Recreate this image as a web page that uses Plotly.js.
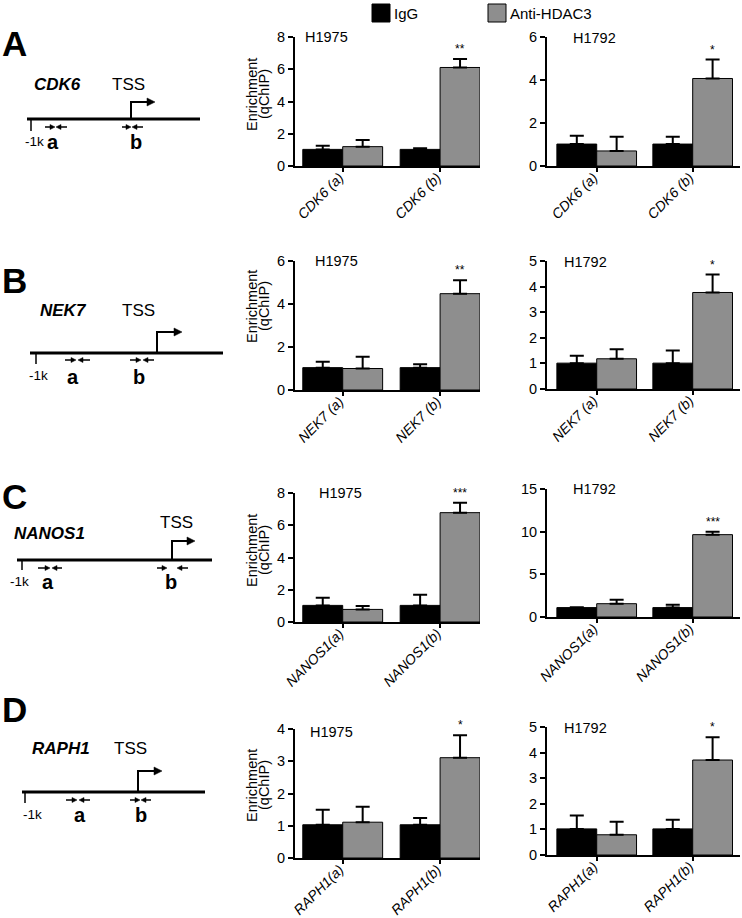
<!DOCTYPE html>
<html><head><meta charset="utf-8">
<script src="https://cdn.plot.ly/plotly-3.0.1.min.js"></script>
<style>html,body{margin:0;padding:0;background:#fff}#chart{width:742px;height:918px}</style>
</head><body><div id="chart"></div>
<script>
// ---------------- DATA ----------------
const seriesNames = ['IgG', 'Anti-HDAC3'];
const cellLines = ['H1975', 'H1792'];
const geneNames = ['CDK6', 'NEK7', 'NANOS1', 'RAPH1'];
const panelLetters = ['A', 'B', 'C', 'D'];

const catsCDK6 = ['CDK6 (a)', 'CDK6 (b)'];
const catsNEK7 = ['NEK7 (a)', 'NEK7 (b)'];
const catsNANOS1 = ['NANOS1(a)', 'NANOS1(b)'];
const catsRAPH1 = ['RAPH1(a)', 'RAPH1(b)'];

const cdk6_H1975_igg = [1.03, 1.03];
const cdk6_H1975_iggErr = [0.23, 0.07];
const cdk6_H1975_anti = [1.20, 6.11];
const cdk6_H1975_antiErr = [0.42, 0.52];
const cdk6_H1975_sig = ['', '**'];

const cdk6_H1792_igg = [1.02, 1.02];
const cdk6_H1792_iggErr = [0.39, 0.34];
const cdk6_H1792_anti = [0.70, 4.07];
const cdk6_H1792_antiErr = [0.66, 0.88];
const cdk6_H1792_sig = ['', '*'];

const nek7_H1975_igg = [1.04, 1.04];
const nek7_H1975_iggErr = [0.27, 0.16];
const nek7_H1975_anti = [1.00, 4.48];
const nek7_H1975_antiErr = [0.55, 0.62];
const nek7_H1975_sig = ['', '**'];

const nek7_H1792_igg = [1.01, 1.01];
const nek7_H1792_iggErr = [0.29, 0.49];
const nek7_H1792_anti = [1.18, 3.77];
const nek7_H1792_antiErr = [0.37, 0.70];
const nek7_H1792_sig = ['', '*'];

const nanos1_H1975_igg = [1.03, 1.03];
const nanos1_H1975_iggErr = [0.47, 0.66];
const nanos1_H1975_anti = [0.78, 6.78];
const nanos1_H1975_antiErr = [0.21, 0.62];
const nanos1_H1975_sig = ['', '***'];

const nanos1_H1792_igg = [1.10, 1.10];
const nanos1_H1792_iggErr = [0.03, 0.35];
const nanos1_H1792_anti = [1.56, 9.65];
const nanos1_H1792_antiErr = [0.47, 0.35];
const nanos1_H1792_sig = ['', '***'];

const raph1_H1975_igg = [1.03, 1.03];
const raph1_H1975_iggErr = [0.47, 0.21];
const raph1_H1975_anti = [1.11, 3.11];
const raph1_H1975_antiErr = [0.48, 0.70];
const raph1_H1975_sig = ['', '*'];

const raph1_H1792_igg = [1.02, 1.02];
const raph1_H1792_iggErr = [0.52, 0.36];
const raph1_H1792_anti = [0.79, 3.71];
const raph1_H1792_antiErr = [0.51, 0.89];
const raph1_H1792_sig = ['', '*'];

// ---------------- LAYOUT HELPERS ----------------
const W = 742, H = 918;
const X = v => v / W;
const Y = v => 1 - v / H;
const FONT = '"Liberation Sans", Arial, Helvetica, sans-serif';
const GRAY = '#8e8e8e';

const colLeft = {x0: 295, x1: 480, xr: [-0.49, 1.41], bw: 0.41};
const colRight = {x0: 547, x1: 740, xr: [-0.518, 1.493], bw: 0.415};

const panels = [
  {col: colLeft, cats: catsCDK6, igg: cdk6_H1975_igg, iggErr: cdk6_H1975_iggErr, anti: cdk6_H1975_anti, antiErr: cdk6_H1975_antiErr, sig: cdk6_H1975_sig, cell: cellLines[0], yTop: 37, yBot: 166, ymax: 8, dtick: 2, lx: 303, ly: 37, yt: 94},
  {col: colRight, cats: catsCDK6, igg: cdk6_H1792_igg, iggErr: cdk6_H1792_iggErr, anti: cdk6_H1792_anti, antiErr: cdk6_H1792_antiErr, sig: cdk6_H1792_sig, cell: cellLines[1], yTop: 37, yBot: 166, ymax: 6, dtick: 2, lx: 571, ly: 38},
  {col: colLeft, cats: catsNEK7, igg: nek7_H1975_igg, iggErr: nek7_H1975_iggErr, anti: nek7_H1975_anti, antiErr: nek7_H1975_antiErr, sig: nek7_H1975_sig, cell: cellLines[0], yTop: 261, yBot: 390, ymax: 6, dtick: 2, lx: 313, ly: 261, yt: 306},
  {col: colRight, cats: catsNEK7, igg: nek7_H1792_igg, iggErr: nek7_H1792_iggErr, anti: nek7_H1792_anti, antiErr: nek7_H1792_antiErr, sig: nek7_H1792_sig, cell: cellLines[1], yTop: 261, yBot: 389, ymax: 5, dtick: 1, lx: 562, ly: 262},
  {col: colLeft, cats: catsNANOS1, igg: nanos1_H1975_igg, iggErr: nanos1_H1975_iggErr, anti: nanos1_H1975_anti, antiErr: nanos1_H1975_antiErr, sig: nanos1_H1975_sig, cell: cellLines[0], yTop: 493, yBot: 622, ymax: 8, dtick: 2, lx: 317, ly: 493, yt: 550},
  {col: colRight, cats: catsNANOS1, igg: nanos1_H1792_igg, iggErr: nanos1_H1792_iggErr, anti: nanos1_H1792_anti, antiErr: nanos1_H1792_antiErr, sig: nanos1_H1792_sig, cell: cellLines[1], yTop: 489, yBot: 617, ymax: 15, dtick: 5, lx: 571, ly: 489},
  {col: colLeft, cats: catsRAPH1, igg: raph1_H1975_igg, iggErr: raph1_H1975_iggErr, anti: raph1_H1975_anti, antiErr: raph1_H1975_antiErr, sig: raph1_H1975_sig, cell: cellLines[0], yTop: 729, yBot: 858, ymax: 4, dtick: 1, lx: 308, ly: 732, yt: 785},
  {col: colRight, cats: catsRAPH1, igg: raph1_H1792_igg, iggErr: raph1_H1792_iggErr, anti: raph1_H1792_anti, antiErr: raph1_H1792_antiErr, sig: raph1_H1792_sig, cell: cellLines[1], yTop: 727, yBot: 855, ymax: 5, dtick: 1, lx: 562, ly: 728}
];

const traces = [];
const layout = {
  width: W, height: H, margin: {l: 0, r: 0, t: 0, b: 0},
  paper_bgcolor: '#fff', plot_bgcolor: 'rgba(0,0,0,0)',
  showlegend: false, barmode: 'overlay',
  font: {family: FONT, color: '#000', size: 14},
  annotations: [], shapes: []
};

panels.forEach((p, i) => {
  const n = i + 1;
  const xa = n === 1 ? 'x' : 'x' + n;
  const ya = n === 1 ? 'y' : 'y' + n;
  const bw = p.col.bw;
  const errBase = {type: 'data', symmetric: false, color: '#000', thickness: 2, width: 7};
  traces.push({
    type: 'bar', name: seriesNames[0], x: p.cats, y: p.igg, xaxis: xa, yaxis: ya,
    width: bw, offset: -bw,
    marker: {color: '#000', line: {color: '#000', width: 1}},
    error_y: Object.assign({array: p.iggErr, arrayminus: p.igg.map(() => 0)}, errBase),
    hoverinfo: 'y'
  });
  traces.push({
    type: 'bar', name: seriesNames[1], x: p.cats, y: p.anti, xaxis: xa, yaxis: ya,
    width: bw, offset: 0,
    marker: {color: GRAY, line: {color: '#000', width: 1}},
    error_y: Object.assign({array: p.antiErr, arrayminus: p.anti.map(() => 0)}, errBase),
    hoverinfo: 'y'
  });
  layout['xaxis' + (n === 1 ? '' : n)] = {
    domain: [X(p.col.x0), X(p.col.x1)], range: p.col.xr, anchor: ya, type: 'category',
    showline: true, linewidth: 2, linecolor: '#000', ticks: 'outside', ticklen: 4, tickwidth: 2, tickcolor: '#000',
    tickangle: -45, ticklabelstandoff: -8, ticklabelshift: -3,
    tickfont: {family: FONT, size: 14, style: 'italic', color: '#000'},
    showgrid: false, zeroline: false, fixedrange: true
  };
  layout['yaxis' + (n === 1 ? '' : n)] = {
    domain: [Y(p.yBot), Y(p.yTop)], range: [0, p.ymax], dtick: p.dtick, tick0: 0, anchor: xa,
    showline: true, linewidth: 2, linecolor: '#000', ticks: 'outside', ticklen: 5, tickwidth: 2, tickcolor: '#000',
    tickfont: {family: FONT, size: 14.5, color: '#000'},
    showgrid: false, zeroline: false, fixedrange: true
  };
  layout.annotations.push({
    xref: 'paper', yref: 'paper', x: X(p.lx), y: Y(p.ly), xanchor: 'left', yanchor: 'middle',
    text: p.cell, showarrow: false, font: {family: FONT, size: 14.5, color: '#000'}
  });
  p.sig.forEach((s, j) => {
    if (!s) return;
    layout.annotations.push({
      xref: xa, yref: ya, x: j + bw / 2, y: p.anti[j] + p.antiErr[j], xanchor: 'center', yanchor: 'bottom',
      yshift: 1, text: s, showarrow: false, font: {family: FONT, size: 12, color: '#000'}
    });
  });
  if (p.yt !== undefined) {
    layout.annotations.push({
      xref: 'paper', yref: 'paper', x: X(252), y: Y(p.yt), xanchor: 'center', yanchor: 'middle',
      textangle: -90, text: 'Enrichment', showarrow: false, font: {family: FONT, size: 14.5, color: '#000'}
    });
    layout.annotations.push({
      xref: 'paper', yref: 'paper', x: X(264), y: Y(p.yt), xanchor: 'center', yanchor: 'middle',
      textangle: -90, text: '(qChIP)', showarrow: false, font: {family: FONT, size: 14.5, color: '#000'}
    });
  }
});

// ---------------- LEGEND (drawn) ----------------
layout.shapes.push({type: 'rect', xref: 'paper', yref: 'paper', x0: X(372), x1: X(390), y0: Y(22), y1: Y(4), fillcolor: '#000', line: {color: '#000', width: 1}});
layout.shapes.push({type: 'rect', xref: 'paper', yref: 'paper', x0: X(488), x1: X(506), y0: Y(22), y1: Y(4), fillcolor: GRAY, line: {color: '#000', width: 1}});
layout.annotations.push({xref: 'paper', yref: 'paper', x: X(392), y: Y(13), xanchor: 'left', yanchor: 'middle', text: seriesNames[0], showarrow: false, font: {family: FONT, size: 15}});
layout.annotations.push({xref: 'paper', yref: 'paper', x: X(508), y: Y(13), xanchor: 'left', yanchor: 'middle', text: seriesNames[1], showarrow: false, font: {family: FONT, size: 15}});

// ---------------- GENE DIAGRAMS ----------------
const diagrams = [
  {letterY: 43, geneX: 32, geneY: 85, tssX: 110, tssY: 85, line: [27, 200, 119], tick: [31, 131], kX: 34, labY: 141, aX: 53, bX: 136,
   pY: 127, prim: [[45, 55], [56, 67], [122, 131], [132, 143]], tss: [131, 102, 155]},
  {letterY: 280, geneX: 38, geneY: 310, tssX: 120, tssY: 310, line: [30, 223, 353], tick: [36, 364], kX: 38, labY: 376, aX: 72.5, bX: 139,
   pY: 360, prim: [[65, 76], [78, 90], [130, 141], [143, 154]], tss: [157, 332, 182]},
  {letterY: 496, geneX: 12, geneY: 533, tssX: 158, tssY: 522, line: [17, 212, 560], tick: [22, 570], kX: 19, labY: 581, aX: 48, bX: 171,
   pY: 568, prim: [[38, 50], [52, 62], [157, 167], [177, 188]], tss: [172, 541, 195]},
  {letterY: 709, geneX: 30, geneY: 748, tssX: 112, tssY: 748, line: [22, 205, 792], tick: [25, 803], kX: 32, labY: 814, aX: 80, bX: 141,
   pY: 800, prim: [[66, 77], [79, 90], [130, 140], [141, 151]], tss: [138, 771, 162]}
];

const P = (x, y) => X(x) + ',' + Y(y);
function arrowR(x0, x1, y, sh, hl, hw) {
  sh.push({type: 'line', xref: 'paper', yref: 'paper', x0: X(x0), x1: X(x1 - hl + 1), y0: Y(y), y1: Y(y), line: {color: '#000', width: 1.5}});
  sh.push({type: 'path', xref: 'paper', yref: 'paper', path: 'M' + P(x1 - hl, y - hw) + 'L' + P(x1, y) + 'L' + P(x1 - hl, y + hw) + 'Z', fillcolor: '#000', line: {color: '#000', width: 0.5}});
}
function arrowL(x0, x1, y, sh, hl, hw) {
  sh.push({type: 'line', xref: 'paper', yref: 'paper', x0: X(x0 + hl - 1), x1: X(x1), y0: Y(y), y1: Y(y), line: {color: '#000', width: 1.5}});
  sh.push({type: 'path', xref: 'paper', yref: 'paper', path: 'M' + P(x0 + hl, y - hw) + 'L' + P(x0, y) + 'L' + P(x0 + hl, y + hw) + 'Z', fillcolor: '#000', line: {color: '#000', width: 0.5}});
}

diagrams.forEach((d, i) => {
  const sh = layout.shapes, an = layout.annotations;
  an.push({xref: 'paper', yref: 'paper', x: X(0), y: Y(d.letterY), xanchor: 'left', yanchor: 'middle', text: '<b>' + panelLetters[i] + '</b>', showarrow: false, font: {family: FONT, size: 35}});
  an.push({xref: 'paper', yref: 'paper', x: X(d.geneX), y: Y(d.geneY), xanchor: 'left', yanchor: 'middle', text: '<b><i>' + geneNames[i] + '</i></b>', showarrow: false, font: {family: FONT, size: 17}});
  an.push({xref: 'paper', yref: 'paper', x: X(d.tssX), y: Y(d.tssY), xanchor: 'left', yanchor: 'middle', text: 'TSS', showarrow: false, font: {family: FONT, size: 17}});
  sh.push({type: 'line', xref: 'paper', yref: 'paper', x0: X(d.line[0]), x1: X(d.line[1]), y0: Y(d.line[2]), y1: Y(d.line[2]), line: {color: '#000', width: 3}});
  sh.push({type: 'line', xref: 'paper', yref: 'paper', x0: X(d.tick[0]), x1: X(d.tick[0]), y0: Y(d.line[2]), y1: Y(d.tick[1]), line: {color: '#000', width: 1.5}});
  an.push({xref: 'paper', yref: 'paper', x: X(d.kX), y: Y(d.labY), xanchor: 'center', yanchor: 'middle', text: '-1k', showarrow: false, font: {family: FONT, size: 13.5}});
  an.push({xref: 'paper', yref: 'paper', x: X(d.aX), y: Y(d.labY + 1), xanchor: 'center', yanchor: 'middle', text: '<b>a</b>', showarrow: false, font: {family: FONT, size: 20}});
  an.push({xref: 'paper', yref: 'paper', x: X(d.bX), y: Y(d.labY + 1), xanchor: 'center', yanchor: 'middle', text: '<b>b</b>', showarrow: false, font: {family: FONT, size: 20}});
  arrowR(d.prim[0][0], d.prim[0][1], d.pY, sh, 5, 2.5);
  arrowL(d.prim[1][0], d.prim[1][1], d.pY, sh, 5, 2.5);
  arrowR(d.prim[2][0], d.prim[2][1], d.pY, sh, 5, 2.5);
  arrowL(d.prim[3][0], d.prim[3][1], d.pY, sh, 5, 2.5);
  const [tx, ty, te] = d.tss;
  sh.push({type: 'path', xref: 'paper', yref: 'paper', path: 'M' + P(tx, d.line[2]) + 'L' + P(tx, ty) + 'L' + P(te - 6, ty), line: {color: '#000', width: 2}});
  sh.push({type: 'path', xref: 'paper', yref: 'paper', path: 'M' + P(te - 8, ty - 4) + 'L' + P(te, ty) + 'L' + P(te - 8, ty + 4) + 'Z', fillcolor: '#000', line: {color: '#000', width: 0.5}});
});

Plotly.newPlot('chart', traces, layout, {displayModeBar: false, staticPlot: true});
</script>
</body></html>
